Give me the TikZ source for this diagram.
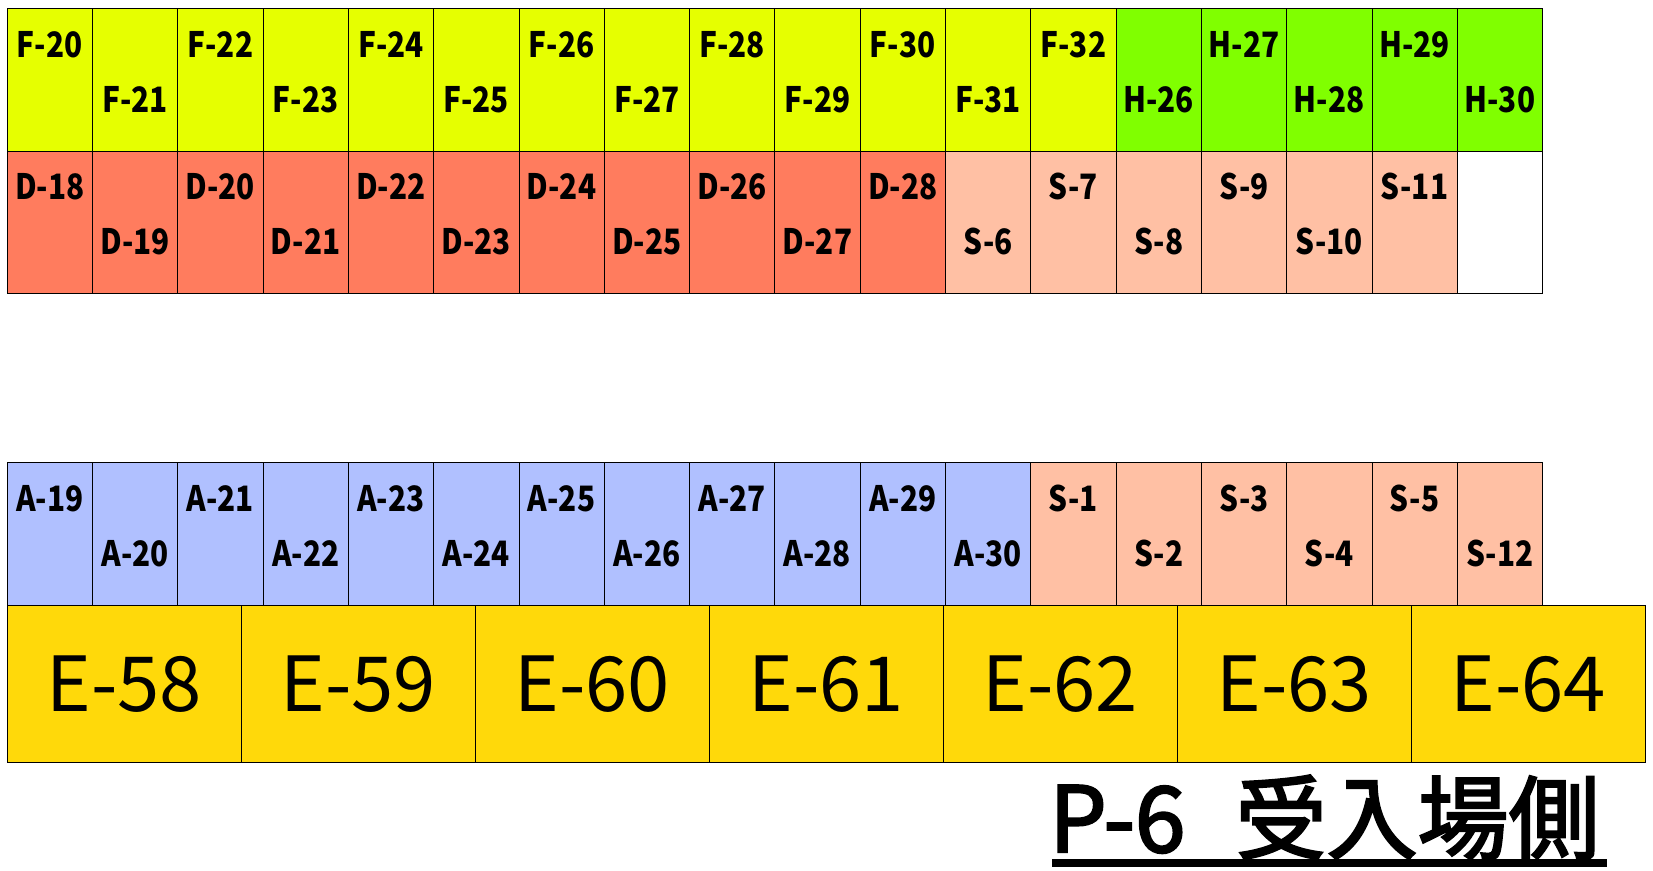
\documentclass[tikz,border=0pt]{standalone}
\usepackage{fontspec}
\newfontfamily\jpfont{Noto Sans CJK JP}
\newfontfamily\tagfont{Noto Sans CJK JP}[FakeStretch=0.85]
\newfontfamily\titlefont{Noto Sans CJK JP}[FakeBold=2.5]
\definecolor{LotF}{RGB}{230, 255, 0}
\definecolor{LotH}{RGB}{128, 255, 0}
\definecolor{LotD}{RGB}{255, 124, 94}
\definecolor{LotS}{RGB}{255, 192, 164}
\definecolor{LotA}{RGB}{176, 192, 255}
\definecolor{LotE}{RGB}{255, 217, 10}
\usetikzlibrary{positioning, calc}

\begin{document}
\begin{tikzpicture}[
        x=1pt, y=-1pt,
        bay/.style={rectangle, draw=black, line width=0.8pt, inner sep=0pt, anchor=north west, minimum width=85.3pt, minimum height=142.5pt},
        bigbay/.style={bay, minimum width=234pt, minimum height=157pt, font=\jpfont\fontsize{76}{80}\selectfont},
        tag/.style={inner sep=0pt, font=\tagfont\bfseries\fontsize{35}{38}\selectfont},
        title/.style={inner sep=0pt, anchor=base west, font=\titlefont\fontsize{91}{96}\selectfont}
    ]
        \useasboundingbox (0,0) rectangle (1653,870);

        % Top row
        \foreach \lbl/\col [count=\i from 0] in {F-20/LotF, F-21/LotF, F-22/LotF, F-23/LotF, F-24/LotF, F-25/LotF, F-26/LotF, F-27/LotF, F-28/LotF, F-29/LotF, F-30/LotF, F-31/LotF, F-32/LotF, H-26/LotH, H-27/LotH, H-28/LotH, H-29/LotH, H-30/LotH} {
            \ifodd\i \def\dy{91}\else \def\dy{36}\fi
            \node[bay, fill=\col] (top\i) at (6.7+85.3*\i, 8.3) {};
            \node[tag] at ($(top\i.north)+(0,\dy)$) {\lbl};
        }

        % Second row
        \foreach \lbl/\col [count=\i from 0] in {D-18/LotD, D-19/LotD, D-20/LotD, D-21/LotD, D-22/LotD, D-23/LotD, D-24/LotD, D-25/LotD, D-26/LotD, D-27/LotD, D-28/LotD, S-6/LotS, S-7/LotS, S-8/LotS, S-9/LotS, S-10/LotS, S-11/LotS} {
            \ifodd\i \def\dy{91}\else \def\dy{36}\fi
            \node[bay, fill=\col] (mid\i) at (6.7+85.3*\i, 150.8) {};
            \node[tag] at ($(mid\i.north)+(0,\dy)$) {\lbl};
        }
        \node[bay, fill=white] (mid17) at (6.7+85.3*17, 150.8) {};

        % Lower row
        \foreach \lbl/\col [count=\i from 0] in {A-19/LotA, A-20/LotA, A-21/LotA, A-22/LotA, A-23/LotA, A-24/LotA, A-25/LotA, A-26/LotA, A-27/LotA, A-28/LotA, A-29/LotA, A-30/LotA, S-1/LotS, S-2/LotS, S-3/LotS, S-4/LotS, S-5/LotS, S-12/LotS} {
            \ifodd\i \def\dy{91}\else \def\dy{36}\fi
            \node[bay, fill=\col] (low\i) at (6.7+85.3*\i, 462.3) {};
            \node[tag] at ($(low\i.north)+(0,\dy)$) {\lbl};
        }

        % E bays
        \foreach \lbl [count=\i from 0] in {E-58, E-59, E-60, E-61, E-62, E-63, E-64} {
            \node[bigbay, fill=LotE] (e\i) at (6.7+234*\i, 605) {\lbl};
        }

        % Title
        \node[title] (name) at (1049, 852) {P-6\hspace{0.55em}受入場側};
        \draw[line width=8pt] ($(name.base west)+(3,11)$) -- ($(name.base east)+(7,11)$);
    \end{tikzpicture}
\end{document}
